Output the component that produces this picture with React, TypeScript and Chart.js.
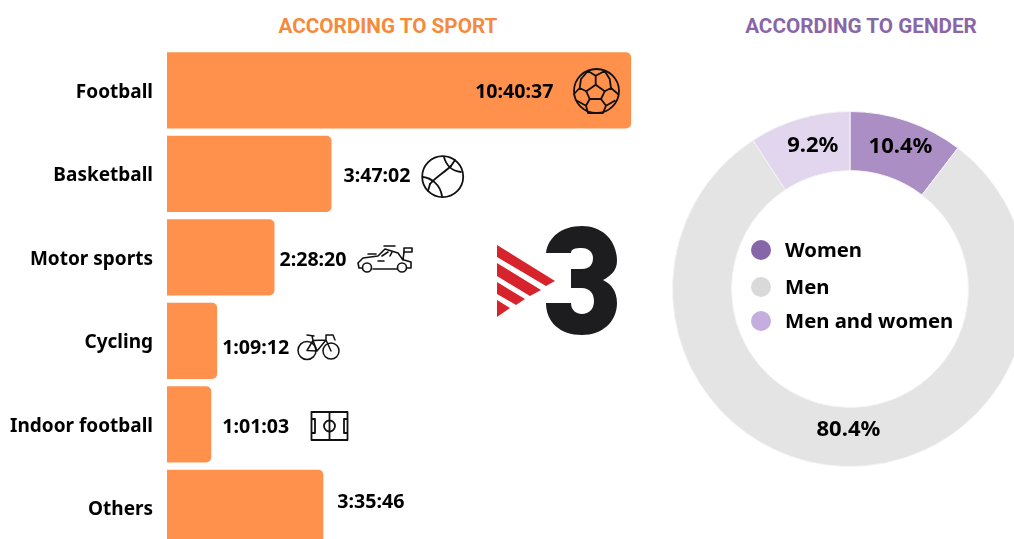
import React, { useEffect, useRef } from "react";
import { Chart, registerables } from "chart.js";

Chart.register(...registerables);

const sports = ["Football", "Basketball", "Motor sports", "Cycling", "Indoor football", "Others"];
const durations = ["10:40:37", "3:47:02", "2:28:20", "1:09:12", "1:01:03", "3:35:46"];
const durationOffsets = [-156, 12, 5, 5, 11, 14];
const durationShifts = [2, 3, 3, 8, 3, -5];
const genders = ["Women", "Men", "Men and women"];
const genderShares = [10.4, 80.4, 9.2];
const sliceColors = ["#AB8FC4", "#E4E4E4", "#E2D6EE"];
const legendColors = ["#8665A8", "#D9D9D9", "#C3AEDE"];

const FONT = '"Noto Sans", sans-serif';
const toSeconds = (s: string) => {
  const [h, m, sec] = s.split(":").map(Number);
  return h * 3600 + m * 60 + sec;
};
const seconds = durations.map(toSeconds);

const barLabels = {
  id: "barLabels",
  afterDatasetsDraw(chart: any) {
    const { ctx } = chart;
    const meta = chart.getDatasetMeta(0);
    ctx.save();
    ctx.font = `700 19.6px ${FONT}`;
    ctx.fillStyle = "#000";
    ctx.textAlign = "left";
    ctx.textBaseline = "middle";
    meta.data.forEach((bar: any, i: number) => {
      ctx.fillText(durations[i], bar.x + durationOffsets[i], bar.y + durationShifts[i]);
    });
    ctx.restore();
  },
};

const DONUT_LEFT = 672;
const DONUT_TOP = 111;
const labelShift = [[3, -2], [4, -7], [5, -1]];
const legendYs = [251, 288, 322];

const donutLabels = {
  id: "donutLabels",
  afterDatasetsDraw(chart: any) {
    const { ctx } = chart;
    const meta = chart.getDatasetMeta(0);
    ctx.save();
    ctx.fillStyle = "#000";
    ctx.textAlign = "center";
    ctx.textBaseline = "middle";
    ctx.font = `700 22px ${FONT}`;
    meta.data.forEach((arc: any, i: number) => {
      const p = arc.tooltipPosition();
      ctx.fillText(`${genderShares[i]}%`, p.x + labelShift[i][0], p.y + labelShift[i][1]);
    });
    ctx.textAlign = "left";
    ctx.font = `700 20.3px ${FONT}`;
    genders.forEach((g, i) => {
      const y = legendYs[i] - DONUT_TOP;
      ctx.fillStyle = legendColors[i];
      ctx.beginPath();
      ctx.arc(761 - DONUT_LEFT, y - 1, 10, 0, Math.PI * 2);
      ctx.fill();
      ctx.fillStyle = "#000";
      ctx.fillText(g, 785 - DONUT_LEFT, y);
    });
    ctx.restore();
  },
};

function Icons() {
  const s = { fill: "none", stroke: "#111", strokeWidth: 1.8, strokeLinejoin: "round", strokeLinecap: "round" } as const;
  return (
    <svg width={1014} height={539} style={{ position: "absolute", left: 0, top: 0, pointerEvents: "none" }}>
      {/* football */}
      <g {...s}>
        <ellipse cx={596.5} cy={91} rx={22.5} ry={22} />
        <path d="M595.7 84.7 L604.7 91.3 L601 99 L589.7 99 L586.3 91.3 Z" />
        <path d="M595.7 84.7 V75.7 L588 71 M595.7 75.7 L604.7 71 M604.7 91.3 L611 88 L609.7 79 L604.7 71 M611 88 L618 94 M586.3 91.3 L579.7 88 L581 79 L588 71 M579.7 88 L574 94" />
        <path d="M601 99 L606 105.7 L614.7 100.7 M606 105.7 L603 113 M589.7 99 L586 105.7 L577 100.7 M586 105.7 L588 113 M588 113 H603" />
      </g>
      {/* basketball */}
      <g {...s}>
        <circle cx={442.7} cy={176.7} r={20.5} />
        <path d="M430 184 C437 176 445 172 451 166" />
        <path d="M444 157 C446 165 452 171 461 172" />
        <path d="M455 160 L451 166" />
        <path d="M423 177 C431 178 440 184 442 196" />
        <path d="M430 184 L428 191" />
      </g>
      {/* car */}
      <g {...s} strokeWidth={1.6}>
        <path d="M362 268 H359 L358 263 L363 258 L378 256 L385 249 L398 253 L403 260 L404 252 M404 260 L411 262 L411 268 L407 268 M397 269 H373" />
        <circle cx={367} cy={267.5} r={4.5} />
        <circle cx={402} cy={267.5} r={4.5} />
        <path d="M404 248 H412 V252 H404 Z M384 246 H395 M368 254 H376 M378 261 H384 M382 256 L388 252 M390 256 L392 252" />
      </g>
      {/* bike */}
      <g {...s} strokeWidth={1.5}>
        <circle cx={307} cy={350.5} r={9} />
        <circle cx={331} cy={351} r={8} />
        <path d="M307 350.5 L313 340.5 L326 340 L331 351 M313 340.5 L317 351 L326 340 M307 350.5 L317 351 M307 335 L314 336 M313 340.5 L312 336 M326 340 L326 335 H333 L335 340" />
      </g>
      {/* pitch */}
      <g {...s} strokeLinecap="butt">
        <rect x={311.5} y={412} width={36} height={28} />
        <path d="M329.5 412 V440" />
        <circle cx={329.5} cy={426} r={5.5} />
        <path d="M311.5 419 H315 V433 H311.5 M347.5 419 H344 V433 H347.5" />
      </g>
      {/* logo */}
      <g fill="#D7232B">
        <polygon points="497,245 555,281 546,286 497,257" />
        <polygon points="497,263 541,290 530,296 497,276" />
        <polygon points="497,282 525,299 516,305 497,294" />
        <polygon points="497,300 510,308 497,317" />
      </g>
      <path
        fill="#1D1C1E"
        d="M546 253 C548 237 562 226 582 226 C603 226 617 241 617 261 C617 270 611 276 603 280 C611 284 617 291 617 303 C617 322 602 335 582 335 C560 335 546 322 546 303 L571 303 C571 310 576 314 582 314 C589 314 594 309 594 301 C594 293 589 288 582 288 L571 288 L571 269 L582 269 C589 269 593 265 593 258 C593 252 588 248 582 248 C575 248 571 249 571 253 Z"
      />
    </svg>
  );
}

export default function App() {
  const barRef = useRef<HTMLCanvasElement>(null);
  const donutRef = useRef<HTMLCanvasElement>(null);

  useEffect(() => {
    document.body.style.margin = "0";
    const bar = new Chart(barRef.current!, {
      type: "bar",
      data: {
        labels: sports,
        datasets: [
          {
            data: seconds,
            backgroundColor: "#FF914D",
            borderRadius: { topLeft: 0, bottomLeft: 0, topRight: 5, bottomRight: 5 },
            borderSkipped: false,
            categoryPercentage: 1,
            barPercentage: 0.911,
          },
        ],
      },
      options: {
        indexAxis: "y",
        animation: false,
        responsive: false,
        layout: { padding: { top: 48.6, left: 0, right: 0, bottom: 0 } },
        plugins: { legend: { display: false }, tooltip: { enabled: false } },
        scales: {
          x: { display: false, min: 0, max: 40000 },
          y: {
            afterFit(axis: any) {
              axis.width = 167;
            },
            grid: { display: false },
            border: { display: false },
            ticks: {
              autoSkip: false,
              padding: 6,
              labelOffset: 2,
              color: "#000",
              font: { family: FONT, size: 19, weight: "700" },
            },
          },
        },
      },
      plugins: [barLabels],
    } as any);
    const donut = new Chart(donutRef.current!, {
      type: "doughnut",
      data: {
        labels: genders,
        datasets: [
          {
            data: genderShares,
            backgroundColor: sliceColors,
            borderColor: "#F4F4F4",
            borderWidth: 1,
          },
        ],
      },
      options: {
        animation: false,
        responsive: false,
        cutout: "66.7%",
        layout: { padding: 0 },
        plugins: { legend: { display: false }, tooltip: { enabled: false } },
      },
      plugins: [donutLabels],
    } as any);
    return () => {
      bar.destroy();
      donut.destroy();
    };
  }, []);

  const title: React.CSSProperties = {
    position: "absolute",
    top: 12,
    fontFamily: '"Roboto", sans-serif',
    fontWeight: 700,
    fontSize: 20.7,
    lineHeight: "28px",
    whiteSpace: "nowrap",
    transform: "translateX(-50%)",
  };

  return (
    <div style={{ position: "relative", width: 1014, height: 539, overflow: "hidden", background: "#fff" }}>
      <div style={{ ...title, left: 388, color: "#F58A3C" }}>ACCORDING TO SPORT</div>
      <div style={{ ...title, left: 861, color: "#8866A8" }}>ACCORDING TO GENDER</div>
      <canvas ref={barRef} width={650} height={567} style={{ position: "absolute", left: 0, top: 0 }} />
      <canvas ref={donutRef} width={356} height={356} style={{ position: "absolute", left: DONUT_LEFT, top: DONUT_TOP }} />
      <Icons />
    </div>
  );
}
